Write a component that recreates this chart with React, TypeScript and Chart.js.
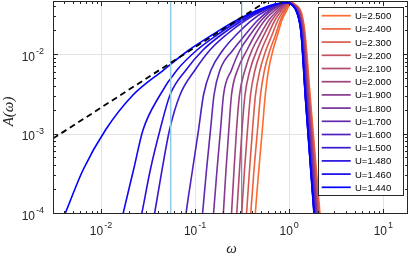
import React, { useEffect, useRef } from 'react';
import { Chart, registerables } from 'chart.js';

Chart.register(...registerables);

// ---- data -------------------------------------------------------------------
const U_VALUES = [2.5, 2.4, 2.3, 2.2, 2.1, 2.0, 1.9, 1.8, 1.7, 1.6, 1.5, 1.48, 1.46, 1.44];

// A(omega) levels shared by every curve (rising flank, peak, falling flank)
const Y_LEVELS = [
  3.525e-5, 1e-4, 3.577e-4, 1.139e-3, 3.14e-3, 6.477e-3, 1.156e-2, 1.785e-2, 2.756e-2,
  3.681e-2, 4.38e-2, 4.574e-2, 4.255e-2, 3.376e-2, 1.891e-2, 2.716e-3, 1e-4, 3.525e-5,
];

// omega at which each curve reaches the levels above
const X_U2500 = [0.4124, 0.4363, 0.4753, 0.5178, 0.5572, 0.6026, 0.6728, 0.751, 0.8385, 0.9476, 1.0074, 1.045, 1.181, 1.3512, 1.472, 1.6841, 2.1248, 2.2867];
const X_U2400 = [0.3694, 0.3898, 0.4226, 0.4604, 0.4954, 0.5464, 0.6251, 0.7152, 0.8083, 0.9135, 0.983, 1.0323, 1.1695, 1.338, 1.4577, 1.6636, 2.0939, 2.2534];
const X_U2300 = [0.3333, 0.3518, 0.3786, 0.4074, 0.4384, 0.4894, 0.5668, 0.6565, 0.7603, 0.8806, 0.9593, 1.0198, 1.1582, 1.325, 1.4435, 1.6474, 2.0683, 2.2205];
const X_U2200 = [0.2964, 0.3128, 0.335, 0.3605, 0.3879, 0.4331, 0.5077, 0.5953, 0.7065, 0.8385, 0.9361, 1.0098, 1.1497, 1.3089, 1.4329, 1.6274, 2.0383, 2.1883];
const X_U2100 = [0.2622, 0.2768, 0.2964, 0.3151, 0.3391, 0.3832, 0.4548, 0.5398, 0.6564, 0.7984, 0.9135, 0.9976, 1.1385, 1.2962, 1.419, 1.6075, 2.0085, 2.151];
const X_U2000 = [0.2292, 0.2437, 0.2591, 0.2754, 0.2964, 0.3391, 0.4024, 0.4894, 0.61, 0.7603, 0.8914, 0.9854, 1.1274, 1.2835, 1.4052, 1.588, 1.9841, 2.1197];
const X_U1900 = [0.1885, 0.1994, 0.213, 0.2281, 0.2437, 0.2822, 0.3561, 0.4331, 0.5531, 0.7065, 0.8698, 0.9759, 1.1163, 1.271, 1.3914, 1.5725, 1.9551, 2.0887];
const X_U1800 = [0.1476, 0.1569, 0.1709, 0.1862, 0.2004, 0.2437, 0.3, 0.3832, 0.5077, 0.6564, 0.8385, 0.964, 1.1082, 1.2555, 1.3813, 1.5534, 1.9267, 2.0582];
const X_U1700 = [0.1114, 0.1199, 0.1322, 0.1458, 0.1588, 0.1839, 0.2528, 0.3391, 0.4661, 0.6251, 0.8182, 0.9523, 1.0974, 1.2433, 1.3678, 1.5345, 1.9033, 2.0282];
const X_U1600 = [0.07257, 0.08004, 0.09384, 0.1087, 0.1228, 0.1476, 0.1979, 0.272, 0.4024, 0.5809, 0.7984, 0.943, 1.0867, 1.2312, 1.3545, 1.5196, 1.8755, 1.9986];
const X_U1500 = [0.03159, 0.03703, 0.04449, 0.05345, 0.06911, 0.09976, 0.144, 0.213, 0.3475, 0.5398, 0.7696, 0.9315, 1.0762, 1.2192, 1.3413, 1.5011, 1.8482, 1.9695];
const X_U1480 = [0.02242, 0.02707, 0.03341, 0.04236, 0.05411, 0.08004, 0.1213, 0.1885, 0.3229, 0.514, 0.751, 0.9292, 1.0762, 1.2163, 1.3413, 1.4974, 1.8437, 1.9599];
const X_U1460 = [0.01409, 0.01713, 0.02215, 0.02795, 0.04236, 0.06421, 0.1048, 0.1709, 0.3, 0.4894, 0.7329, 0.927, 1.0735, 1.2132, 1.338, 1.4937, 1.8391, 1.9551];
const X_U1440 = [0.00287, 0.00414, 0.00644, 0.01116, 0.02188, 0.04616, 0.08614, 0.1512, 0.2788, 0.4661, 0.7065, 0.9247, 1.0709, 1.2103, 1.3348, 1.4901, 1.8347, 1.9503];

const CURVE_XS = [
  X_U2500, X_U2400, X_U2300, X_U2200, X_U2100, X_U2000, X_U1900,
  X_U1800, X_U1700, X_U1600, X_U1500, X_U1480, X_U1460, X_U1440,
];

// dashed power-law guide
const DASH_X = [0.00309, 0.579];
const DASH_Y = [8.9e-4, 0.0478];

// vertical marker lines
const VLINE_X = [0.05503, 0.3128];

// axis ranges and labelled ticks
const X_MIN = 0.00309;
const X_MAX = 18.3;
const Y_MIN = 1e-4;
const Y_MAX = 0.0478;
const X_MAJOR = [0.01, 0.1, 1, 10];
const Y_MAJOR = [1e-4, 1e-3, 1e-2];

// ---- styling -----------------------------------------------------------------
const START_RGB = [255, 107, 45];
const END_RGB = [0, 0, 255];
const AXIS_COLOR = '#262626';
const FONT_SANS = '"Liberation Sans", Arial, Helvetica, sans-serif';
const FONT_SERIF = '"Liberation Serif", "Times New Roman", serif';

function curveColor(i: number, n: number): string {
  const t = n > 1 ? i / (n - 1) : 0;
  const c = START_RGB.map((s, k) => Math.round(s + (END_RGB[k] - s) * t));
  return `rgb(${c[0]},${c[1]},${c[2]})`;
}

function logTicks(min: number, max: number) {
  const out: { v: number; major: boolean }[] = [];
  for (let d = Math.floor(Math.log10(min)) - 1; d <= Math.ceil(Math.log10(max)); d++) {
    for (let k = 1; k <= 9; k++) {
      const v = k * Math.pow(10, d);
      if (v > min * 1.0001 && v < max * 0.9999) out.push({ v, major: k === 1 });
    }
  }
  return out;
}

function expText(v: number): string {
  return String(Math.round(Math.log10(v)));
}

const axesPlugin = {
  id: 'matlabAxes',
  beforeDatasetsDraw(chart: any) {
    const { ctx, chartArea: a } = chart;
    const xs = chart.scales.x;
    const ys = chart.scales.y;
    ctx.save();
    ctx.strokeStyle = '#e4e4e4';
    ctx.lineWidth = 1;
    ctx.beginPath();
    for (const v of X_MAJOR) {
      const p = Math.round(xs.getPixelForValue(v)) + 0.5;
      if (p > a.left + 1 && p < a.right - 1) {
        ctx.moveTo(p, a.top);
        ctx.lineTo(p, a.bottom);
      }
    }
    for (const v of Y_MAJOR) {
      const p = Math.round(ys.getPixelForValue(v)) - 0.5;
      if (p > a.top + 1 && p < a.bottom - 1) {
        ctx.moveTo(a.left, p);
        ctx.lineTo(a.right, p);
      }
    }
    ctx.stroke();
    ctx.restore();
  },
  afterDatasetsDraw(chart: any) {
    const { ctx, chartArea: a } = chart;
    const xs = chart.scales.x;
    const ys = chart.scales.y;
    ctx.save();

    // frame
    ctx.strokeStyle = AXIS_COLOR;
    ctx.lineWidth = 1;
    ctx.strokeRect(a.left + 0.5, a.top + 0.5, a.right - a.left - 1, a.bottom - a.top - 1);

    // inward ticks on all four sides
    ctx.beginPath();
    for (const t of logTicks(X_MIN, X_MAX)) {
      const p = Math.round(xs.getPixelForValue(t.v)) + 0.5;
      const len = t.major ? 5 : 3;
      ctx.moveTo(p, a.bottom);
      ctx.lineTo(p, a.bottom - len);
      ctx.moveTo(p, a.top);
      ctx.lineTo(p, a.top + len);
    }
    for (const t of logTicks(Y_MIN / 1.0002, Y_MAX)) {
      const p = Math.round(ys.getPixelForValue(t.v)) - 0.5;
      const len = t.major ? 5 : 3;
      ctx.moveTo(a.left, p);
      ctx.lineTo(a.left + len, p);
      ctx.moveTo(a.right, p);
      ctx.lineTo(a.right - len, p);
    }
    ctx.stroke();

    // tick labels: 10 with raised exponent
    ctx.fillStyle = AXIS_COLOR;
    ctx.textBaseline = 'alphabetic';
    const baseFont = `12px ${FONT_SANS}`;
    const expFont = `9px ${FONT_SANS}`;
    for (const v of X_MAJOR) {
      const p = xs.getPixelForValue(v);
      const e = expText(v);
      ctx.font = baseFont;
      const w10 = ctx.measureText('10').width;
      ctx.font = expFont;
      const we = ctx.measureText(e).width;
      const start = p - (w10 + 1 + we) / 2;
      ctx.textAlign = 'left';
      ctx.font = baseFont;
      ctx.fillText('10', start, a.bottom + 21);
      ctx.font = expFont;
      ctx.fillText(e, start + w10 + 1, a.bottom + 14);
    }
    for (const v of Y_MAJOR) {
      const p = ys.getPixelForValue(v);
      const e = expText(v);
      const right = a.left - 9;
      ctx.textAlign = 'right';
      ctx.font = expFont;
      const we = ctx.measureText(e).width;
      ctx.fillText(e, right, p - 1);
      ctx.font = baseFont;
      ctx.fillText('10', right - we - 1, p + 5.5);
    }

    // axis titles
    ctx.textAlign = 'center';
    ctx.font = `italic 15px ${FONT_SERIF}`;
    ctx.fillText('ω', (a.left + a.right) / 2 + 1, a.bottom + 39);
    ctx.save();
    ctx.translate(13, (a.top + a.bottom) / 2 + 4);
    ctx.rotate(-Math.PI / 2);
    ctx.fillText('A(ω)', 0, 0);
    ctx.restore();

    // legend box
    const L = { left: 318.5, top: 7.5, right: 403.5, bottom: 195.5 };
    ctx.fillStyle = '#ffffff';
    ctx.fillRect(L.left, L.top, L.right - L.left, L.bottom - L.top);
    ctx.strokeStyle = AXIS_COLOR;
    ctx.strokeRect(L.left, L.top, L.right - L.left, L.bottom - L.top);
    ctx.font = `9.5px ${FONT_SANS}`;
    ctx.textAlign = 'left';
    const n = U_VALUES.length;
    for (let i = 0; i < n; i++) {
      const yc = 15.7 + 13.2 * i;
      ctx.strokeStyle = curveColor(i, n);
      ctx.lineWidth = 1.7;
      ctx.beginPath();
      ctx.moveTo(321.7, yc);
      ctx.lineTo(350.7, yc);
      ctx.stroke();
      ctx.fillStyle = '#000000';
      ctx.fillText('U=' + U_VALUES[i].toFixed(3), 355, yc + 3.4);
    }
    ctx.restore();
  },
};

export default function App() {
  const canvasRef = useRef<HTMLCanvasElement | null>(null);

  useEffect(() => {
    document.body.style.margin = '0';
    const canvas = canvasRef.current;
    if (!canvas) return;
    const n = U_VALUES.length;
    const curveSets = CURVE_XS.map((xsArr, i) => ({
      label: 'U=' + U_VALUES[i].toFixed(3),
      data: xsArr.map((x, j) => ({ x, y: Y_LEVELS[j] })),
      borderColor: curveColor(i, n),
      borderWidth: 1.6,
      pointRadius: 0,
      fill: false,
      cubicInterpolationMode: 'monotone' as const,
      order: 100 - i,
      clip: 0,
    }));
    const vlineSets = VLINE_X.map((v, k) => ({
      label: 'marker' + k,
      data: [{ x: v, y: Y_MIN }, { x: v, y: Y_MAX }],
      borderColor: k === 0 ? '#94c9e8' : '#3f7db5',
      borderWidth: k === 0 ? 1.5 : 1,
      pointRadius: 0,
      fill: false,
      order: 2,
      clip: 0,
    }));
    const dashSet = {
      label: 'guide',
      data: DASH_X.map((x, j) => ({ x, y: DASH_Y[j] })),
      borderColor: '#000000',
      borderWidth: 1.8,
      borderDash: [6, 4],
      pointRadius: 0,
      fill: false,
      order: 1,
      clip: 0,
    };

    const chart = new Chart(canvas, {
      type: 'line',
      data: { datasets: [...curveSets, ...vlineSets, dashSet] as any },
      options: {
        responsive: false,
        animation: false,
        devicePixelRatio: 1,
        layout: { padding: { left: 0, right: 7, top: 1, bottom: 0 } },
        plugins: { legend: { display: false }, tooltip: { enabled: false } },
        scales: {
          x: {
            type: 'logarithmic',
            min: X_MIN,
            max: X_MAX,
            grid: { display: false },
            border: { display: false },
            ticks: { display: false },
            afterFit: (s: any) => { s.height = 43; },
          },
          y: {
            type: 'logarithmic',
            min: Y_MIN,
            max: Y_MAX,
            grid: { display: false },
            border: { display: false },
            ticks: { display: false },
            afterFit: (s: any) => { s.width = 53; },
          },
        },
      } as any,
      plugins: [axesPlugin],
    });
    return () => chart.destroy();
  }, []);

  return (
    <canvas ref={canvasRef} width={415} height={257} style={{ display: 'block' }} />
  );
}
